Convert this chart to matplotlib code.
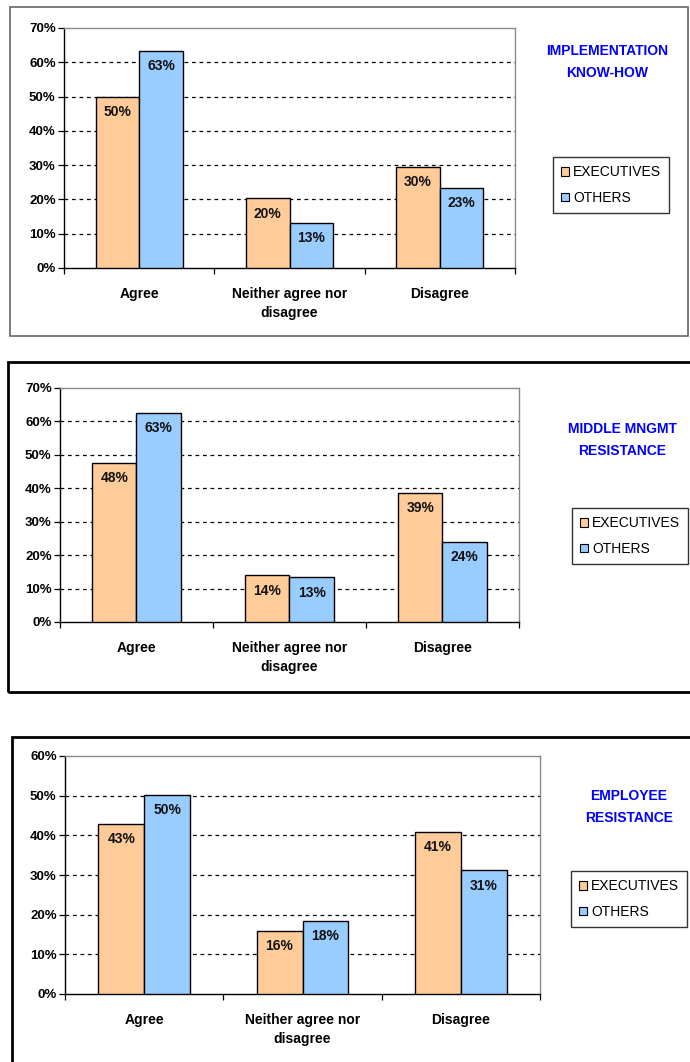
import matplotlib
matplotlib.use("Agg")
import matplotlib.pyplot as plt
from matplotlib.patches import Rectangle, Patch
import numpy as np

plt.rcParams['font.family'] = ['Liberation Sans', 'DejaVu Sans']

categories = ["Agree", "Neither agree nor\ndisagree", "Disagree"]
series_names = ["EXECUTIVES", "OTHERS"]

titles = ["IMPLEMENTATION\nKNOW-HOW", "MIDDLE MNGMT\nRESISTANCE", "EMPLOYEE\nRESISTANCE"]

exec_1 = [50.0, 20.3, 29.5]
others_1 = [63.3, 13.2, 23.3]
exec_2 = [47.6, 14.0, 38.6]
others_2 = [62.6, 13.4, 24.0]
exec_3 = [42.9, 16.0, 40.8]
others_3 = [50.2, 18.4, 31.2]

ymax = [70, 70, 60]

W, H = 690, 1062
fig = plt.figure(figsize=(W / 100, H / 100), dpi=100)

EXEC_C = "#FFCC99"
OTH_C = "#99CCFF"

panels = [
    dict(ax=(64, 515, 28, 268), frame=(10, 7, 688, 336, "#666666", 1.2),
         title=(607, 62), legend=(611, 185)),
    dict(ax=(60, 519, 388, 622), frame=(8, 362, 692, 692, "black", 2.0),
         title=(622, 440), legend=(630, 536)),
    dict(ax=(65, 540, 756, 994), frame=(12, 737, 700, 1070, "black", 2.0),
         title=(629, 807), legend=(629, 899)),
]

data = [(exec_1, others_1), (exec_2, others_2), (exec_3, others_3)]


def fx(x):
    return x / W


def fy(y):
    return 1 - y / H


for i, p in enumerate(panels):
    x0, x1, yt, yb = p["ax"]
    ax = fig.add_axes([fx(x0), fy(yb), fx(x1) - fx(x0), fy(yt) - fy(yb)])
    ex, ot = data[i]
    xs = np.arange(len(categories))
    bw = 0.29
    ax.bar(xs - bw / 2, ex, bw, color=EXEC_C, edgecolor="black", linewidth=1.0, zorder=3)
    ax.bar(xs + bw / 2, ot, bw, color=OTH_C, edgecolor="black", linewidth=1.0, zorder=3)
    top = ymax[i]
    ax.set_ylim(0, top)
    ax.set_xlim(-0.5, len(categories) - 0.5)
    ticks = list(range(0, top + 1, 10))
    ax.set_yticks(ticks)
    ax.set_yticklabels([f"{t}%" for t in ticks], fontsize=9.5, fontweight="bold")
    for t in ticks[1:-1]:
        ax.axhline(t, color="black", linestyle=(0, (3, 3)), linewidth=0.9, zorder=1)
    ax.set_xticks([0.5, 1.5, 2.5, -0.5], minor=True)
    ax.set_xticks(xs)
    ax.set_xticklabels(categories, fontsize=10, fontweight="bold", linespacing=1.45)
    ax.tick_params(axis="x", which="major", length=0, pad=14)
    ax.tick_params(axis="x", which="minor", length=4, direction="out", width=0.9)
    ax.tick_params(axis="y", length=4, direction="out", width=0.9, pad=2)
    for s in ["top", "right"]:
        ax.spines[s].set_color("#888888")
        ax.spines[s].set_linewidth(1.0)
    for s in ["left", "bottom"]:
        ax.spines[s].set_color("black")
        ax.spines[s].set_linewidth(1.0)
    for j in range(len(categories)):
        for v, off in ((ex[j], -bw / 2), (ot[j], bw / 2)):
            ax.annotate(f"{int(v + 0.5)}%", (xs[j] + off, v), xytext=(0, -6),
                        textcoords="offset points", ha="center", va="top",
                        fontsize=10, fontweight="bold", color="#111111", zorder=4)

    tx, ty = p["title"]
    fig.text(fx(tx), fy(ty), titles[i], ha="center", va="center", color="#0000FF",
             fontsize=10, fontweight="bold", linespacing=1.65)

    lx, ly = p["legend"]
    handles = [Patch(facecolor=EXEC_C, edgecolor="black", linewidth=0.8),
               Patch(facecolor=OTH_C, edgecolor="black", linewidth=0.8)]
    fig.legend(handles, series_names, loc="center", bbox_to_anchor=(fx(lx), fy(ly)),
               fontsize=10, frameon=True, fancybox=False, edgecolor="black",
               handlelength=0.6, handleheight=0.6, handletextpad=0.25,
               borderpad=0.55, labelspacing=0.85, borderaxespad=0)

    fx0, fy0, fx1, fy1, col, lw = p["frame"]
    fig.patches.append(Rectangle((fx(fx0), fy(fy1)), fx(fx1) - fx(fx0), fy(fy0) - fy(fy1),
                                 transform=fig.transFigure, fill=False,
                                 edgecolor=col, linewidth=lw, zorder=0))

fig.savefig("out.png", dpi=100, facecolor="white")
